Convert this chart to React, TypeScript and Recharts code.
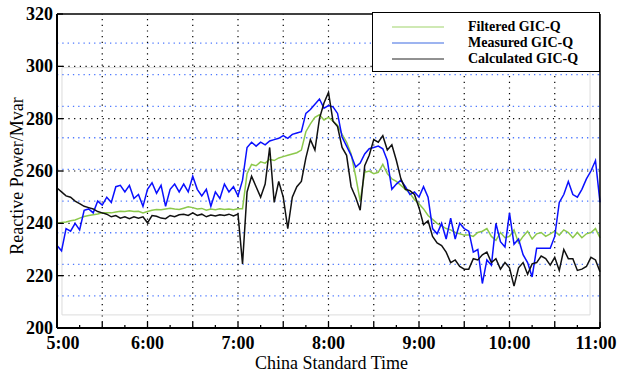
import { LineChart, Line, XAxis, YAxis, ReferenceLine, ReferenceArea, Label } from 'recharts';

const FONT = 'Liberation Serif, Times New Roman, serif';

// minutes after 5:00, one reading every 3 minutes
const MINUTES = [
    0, 3, 6, 9, 12, 15, 18, 21, 24, 27,
    30, 33, 36, 39, 42, 45, 48, 51, 54, 57,
    60, 63, 66, 69, 72, 75, 78, 81, 84, 87,
    90, 93, 96, 99, 102, 105, 108, 111, 114, 117,
    120, 123, 126, 129, 132, 135, 138, 141, 144, 147,
    150, 153, 156, 159, 162, 165, 168, 171, 174, 177,
    180, 183, 186, 189, 192, 195, 198, 201, 204, 207,
    210, 213, 216, 219, 222, 225, 228, 231, 234, 237,
    240, 243, 246, 249, 252, 255, 258, 261, 264, 267,
    270, 273, 276, 279, 282, 285, 288, 291, 294, 297,
    300, 303, 306, 309, 312, 315, 318, 321, 324, 327,
    330, 333, 336, 339, 342, 345, 348, 351, 354, 357,
    360,
];

const FILTERED = [
    240, 240.3, 240.5, 241, 241.3, 242, 242.6, 243, 243.3, 243.6,
    244, 244, 244, 244.3, 244.6, 244.5, 244.8, 244.5, 244.6, 244,
    244.5, 245, 245.3, 245.2, 245.5, 245.8, 245.5, 245.3, 245.8, 246.3,
    246, 245.5, 245.7, 245, 245.5, 245.2, 245.6, 245.3, 245.5, 245.2,
    245.6, 245.6, 259, 262.5, 262, 263.5, 263, 264.5, 264, 265,
    265.5, 266, 266.5, 267, 268, 275, 278, 280.5, 281.5, 279.5,
    280.5, 279, 277.5, 274, 271, 266.5, 258, 248.5, 259.5, 260,
    259, 259.5, 262.5, 259, 257, 256, 254.5, 253, 251.5, 249,
    247.5, 245.5, 243, 241.5, 240, 239, 238, 237.5, 236.5, 236,
    235.5, 235.5, 235, 236.5, 237, 238, 235, 233.5, 236.5, 234.5,
    235, 237.5, 232.5, 235, 237, 234, 236, 236.5, 235, 236,
    237, 235.5, 237.5, 236.5, 234.5, 236.5, 234.5, 236, 236.5, 238,
    234.5,
];

const MEASURED = [
    231.5, 229.5, 238, 237, 240, 237.5, 245, 245.5, 244, 248.5,
    247, 250, 248, 254, 254.5, 252, 254.5, 249.5, 251, 246.5,
    253, 255.5, 251.5, 254.5, 246.5, 253, 255, 252, 255, 252,
    258, 253, 250.5, 253, 246.5, 252, 249.5, 255, 252, 254,
    250.5, 256.5, 269, 271, 269.5, 271, 270, 271.5, 272, 272.5,
    273.5, 272.5, 274, 274.5, 275, 282, 283.5, 285.5, 287.5, 284,
    285, 284.5, 282, 273, 269.5, 266, 261.5, 263, 266.5, 268.5,
    269, 269.5, 268.5, 264, 253, 255, 256.5, 254, 251, 252,
    250, 254, 250, 238, 236, 240, 234, 242, 234, 240,
    238, 237, 229, 230, 217, 226, 224, 240, 233, 231,
    244, 232, 234, 228, 225, 219.5, 230.5, 230.5, 230.5, 230.5,
    235, 248, 251, 256, 251, 250, 253, 257, 260, 264,
    248,
];

const CALCULATED = [
    253.5, 252, 250.5, 250, 248.5, 247.5, 246.5, 246, 245.5, 244.5,
    244, 243.5, 242.5, 243, 242, 242.5, 241.8, 242.5, 242, 242.5,
    240.2, 243, 242.7, 242, 241.8, 243, 242.5, 243.3, 243.5, 243,
    244, 243, 243.5, 242.5, 243.2, 242.8, 243.3, 243, 243.5, 242.8,
    243.5, 224.5, 252, 258, 254, 250, 255, 269, 248, 256,
    250, 238, 250, 254, 256, 265, 272, 268, 280, 286,
    290, 279, 277, 269, 266, 254, 250, 245, 262, 266,
    272, 271, 273.5, 268, 270, 264, 257, 253, 252.5, 251,
    246, 239.5, 241, 235, 232.5, 231.5, 229, 225, 226, 223.5,
    222.5, 222.5, 226.5, 226, 228, 229, 225, 226.5, 222.5, 225,
    223, 216, 223, 225, 220.5, 224.5, 225, 227.5, 226.5, 224,
    227, 222, 230, 226.5, 226.5, 222, 222.5, 223.5, 227, 226,
    221.5,
];

const X_TICKS = [0, 15, 30, 45, 60, 75, 90, 105, 120, 135, 150, 165, 180, 195, 210, 225, 240, 255, 270, 285, 300, 315, 330, 345, 360];
const HOUR_TICKS = [0, 60, 120, 180, 240, 300, 360];
const HOUR_LABELS = ['5:00', '6:00', '7:00', '8:00', '9:00', '10:00', '11:00'];
const GRID_X = [30, 60, 90, 120, 150, 180, 210, 240, 270, 300, 330];
const Y_TICKS = [200, 220, 240, 260, 280, 300, 320];
const GRID_Y = [220, 240, 260, 280, 300];
const BLUE_GRID = [308.9, 296.8, 284.7, 272.7, 260.6, 248.5, 236.4, 224.3, 212.3];

const SERIES = [
    { key: 'filtered', name: 'Filtered GIC-Q', color: '#8cc84b', legend: '#9fd36a', width: 1.2 },
    { key: 'measured', name: 'Measured GIC-Q', color: '#0a10ff', legend: '#9db4f0', width: 2 },
    { key: 'calculated', name: 'Calculated GIC-Q', color: '#111111', legend: '#222222', width: 1 },
];

const data = MINUTES.map((m, i) => ({
    m,
    filtered: FILTERED[i],
    measured: MEASURED[i],
    calculated: CALCULATED[i],
}));

const boldText = { fontFamily: FONT, fontWeight: 700, fontSize: 18 };
const plainText = { fontFamily: FONT, fontWeight: 400, fontSize: 18 };

const XTick = ({ x, y, payload }: any) => {
    const v = payload.value as number;
    const idx = HOUR_TICKS.indexOf(v);
    const len = v % 30 === 0 ? 6 : 3;
    // matlab nudges the end labels inside the frame
    const shift = idx === 0 ? 6 : idx === HOUR_TICKS.length - 1 ? -4 : 0;
    return (
        <g>
            <line x1={x} y1={y} x2={x} y2={y - len} stroke="#000" strokeWidth={1.3} />
            {idx >= 0 && (
                <text x={x + shift} y={y + 21} textAnchor="middle" style={boldText} fill="#000">
                    {HOUR_LABELS[idx]}
                </text>
            )}
        </g>
    );
};

const YTick = ({ x, y, payload }: any) => (
    <g>
        <line x1={x} y1={y} x2={x + 6} y2={y} stroke="#000" strokeWidth={1.3} />
        <text x={x - 4} y={y + 6} textAnchor="end" style={boldText} fill="#000">
            {payload.value}
        </text>
    </g>
);

const RightTick = ({ x, y }: any) => (
    <line x1={x} y1={y} x2={x - 6} y2={y} stroke="#2f5cff" strokeWidth={1.5} />
);

export default function App() {
    return (
        <div style={{ position: 'absolute', left: 0, top: 0, width: 619, height: 375, background: '#fff' }}>
            <LineChart width={619} height={375} data={data} margin={{ top: 14, right: 9, left: 7, bottom: 7 }}>
                <ReferenceArea x1={3.3} x2={353.4} y1={205} y2={299.5} fill="none" stroke="#dcdcdc" strokeWidth={1} />
                {BLUE_GRID.map(v => (
                    <ReferenceLine key={`b${v}`} y={v} stroke="#4d78ff" strokeWidth={1.3} strokeDasharray="1.3 4" />
                ))}
                {GRID_Y.map(v => (
                    <ReferenceLine key={`h${v}`} y={v} stroke="#000" strokeWidth={1.2} strokeDasharray="1.2 4.5" />
                ))}
                {GRID_X.map(v => (
                    <ReferenceLine key={`v${v}`} x={v} stroke="#000" strokeWidth={1.2} strokeDasharray="1.2 4.5" />
                ))}
                <ReferenceLine y={320} stroke="#000" strokeWidth={1.5} />
                <XAxis
                    dataKey="m"
                    type="number"
                    domain={[0, 360]}
                    ticks={X_TICKS}
                    interval={0}
                    tickSize={0}
                    tickMargin={0}
                    height={40}
                    axisLine={{ stroke: '#000', strokeWidth: 2 }}
                    tickLine={false}
                    tick={<XTick />}
                >
                    <Label
                        content={(props: any) => {
                            const vb = props.viewBox;
                            return (
                                <text x={vb.x + vb.width / 2 + 3} y={369} textAnchor="middle" style={plainText} fill="#000">
                                    China Standard Time
                                </text>
                            );
                        }}
                    />
                </XAxis>
                <YAxis
                    type="number"
                    domain={[200, 320]}
                    ticks={Y_TICKS}
                    interval={0}
                    width={50}
                    tickSize={0}
                    tickMargin={0}
                    axisLine={{ stroke: '#000', strokeWidth: 2 }}
                    tickLine={false}
                    tick={<YTick />}
                >
                    <Label
                        content={(props: any) => {
                            const vb = props.viewBox;
                            const cx = vb.x + 10;
                            const cy = vb.y + vb.height / 2 + 5;
                            return (
                                <text
                                    x={cx}
                                    y={cy}
                                    transform={`rotate(-90 ${cx} ${cy})`}
                                    textAnchor="middle"
                                    dominantBaseline="central"
                                    style={plainText}
                                    fill="#000"
                                >
                                    Reactive Power/Mvar
                                </text>
                            );
                        }}
                    />
                </YAxis>
                <YAxis
                    yAxisId="r"
                    orientation="right"
                    type="number"
                    domain={[200, 320]}
                    ticks={BLUE_GRID}
                    interval={0}
                    width={10}
                    tickSize={0}
                    tickMargin={0}
                    axisLine={{ stroke: '#000', strokeWidth: 1.5 }}
                    tickLine={false}
                    tick={<RightTick />}
                />
                {SERIES.map(s => (
                    <Line
                        key={s.key}
                        dataKey={s.key}
                        name={s.name}
                        type="linear"
                        stroke={s.color}
                        strokeWidth={1.5}
                        dot={false}
                        isAnimationActive={false}
                    />
                ))}
            </LineChart>
            <div
                style={{
                    position: 'absolute',
                    left: 372,
                    top: 12,
                    width: 228,
                    height: 60,
                    border: '1px solid #000',
                    background: '#fff',
                    boxSizing: 'border-box',
                    fontFamily: FONT,
                    fontWeight: 'bold',
                    fontSize: 14,
                    color: '#000',
                }}
            >
                {SERIES.map((s, i) => (
                    <div
                        key={s.key}
                        style={{ position: 'absolute', left: 0, top: 6 + i * 16, height: 16, display: 'flex', alignItems: 'center' }}
                    >
                        <svg width={95} height={16}>
                            <line x1={19} x2={71} y1={8} y2={8} stroke={s.legend} strokeWidth={s.width} />
                        </svg>
                        <span style={{ whiteSpace: 'nowrap' }}>{s.name}</span>
                    </div>
                ))}
            </div>
        </div>
    );
}
